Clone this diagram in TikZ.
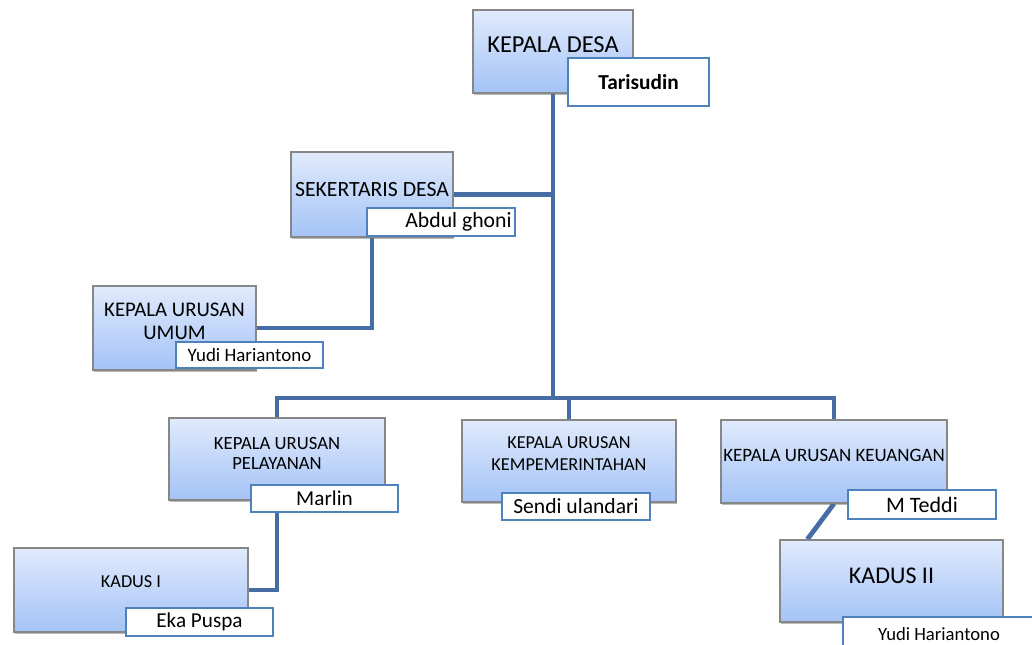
\documentclass[tikz,border=0pt]{standalone}
\usepackage{fontspec}
\setmainfont{Carlito}
\usetikzlibrary{shadows}
\pgfdeclarelayer{background}
\pgfsetlayers{background,main}
\definecolor{lineblue}{RGB}{70,110,165}
\definecolor{boxtop}{RGB}{224,234,252}
\definecolor{boxbot}{RGB}{164,195,246}
\definecolor{boxedge}{RGB}{135,135,135}
\definecolor{nameedge}{RGB}{79,129,189}
\tikzset{
  sz/.style 2 args={minimum width=#1*0.75pt, minimum height=#2*0.75pt},
  mainbox/.style={draw=boxedge, line width=1pt, top color=boxtop, bottom color=boxbot,
    drop shadow={shadow xshift=0.6pt, shadow yshift=-1.6pt, opacity=0.45, fill=black!60},
    inner sep=0pt},
  lbl/.style={align=center, text=black, inner sep=0pt},
  namebox/.style={draw=nameedge, line width=0.9pt, fill=white, inner sep=1pt, text=black},
  conn/.style={draw=lineblue, line width=3.6pt}
}
\begin{document}
\begin{tikzpicture}[x=0.75pt,y=-0.75pt]
\useasboundingbox (0,0) rectangle (1032,645);
% main boxes
\node[mainbox, sz={160}{83}, label={[lbl, yshift=4.9pt, font=\fontsize{18.3}{22}\selectfont]center:KEPALA DESA}] (kd) at (553,51.5) {};
\node[namebox, sz={141}{48}, font=\fontsize{16}{19}\selectfont\bfseries] (kdn) at (638.5,82) {Tarisudin};

\node[mainbox, sz={162}{85}, label={[lbl, yshift=3.4pt, font=\fontsize{16.3}{19}\selectfont]center:SEKERTARIS DESA}] (sd) at (372,194.5) {};
\node[namebox, sz={148}{28}, label={[lbl, xshift=13.1pt, font=\fontsize{16.3}{19}\selectfont]center:Abdul ghoni}] (sdn) at (441,222) {};

\node[mainbox, sz={163}{84}, label={[lbl, yshift=4.9pt, font=\fontsize{15.6}{17.25}\selectfont]center:KEPALA URUSAN\\UMUM}] (ku) at (174.5,328) {};
\node[namebox, sz={147}{26}, font=\fontsize{14.2}{17}\selectfont] (kun) at (249.5,355) {Yudi Hariantono};

\node[mainbox, sz={216}{82}, label={[lbl, yshift=4.5pt, font=\fontsize{14}{15}\selectfont]center:KEPALA URUSAN\\PELAYANAN}] (kp) at (277,459) {};
\node[namebox, sz={147}{27}, font=\fontsize{15.9}{19}\selectfont] (kpn) at (324.5,498.5) {Marlin};

\node[mainbox, sz={214}{82}, label={[lbl, yshift=5.2pt, font=\fontsize{13.7}{16.5}\selectfont]center:KEPALA URUSAN\\KEMPEMERINTAHAN}] (kk) at (569,461) {};
\node[namebox, sz={148}{27}, font=\fontsize{16.2}{19}\selectfont] (kkn) at (576,506.5) {Sendi ulandari};

\node[mainbox, sz={226}{83}, label={[lbl, yshift=4.9pt, font=\fontsize{14.2}{17}\selectfont]center:KEPALA URUSAN KEUANGAN}] (kg) at (834,461.5) {};
\node[namebox, sz={148}{29}, font=\fontsize{16.5}{19}\selectfont] (kgn) at (922,504.5) {M Teddi};

\node[mainbox, sz={234}{84}, label={[lbl, yshift=6pt, font=\fontsize{13.7}{16}\selectfont]center:KADUS I}] (k1) at (131,590) {};
\node[namebox, sz={147}{28}, font=\fontsize{15.9}{19}\selectfont] (k1n) at (199.5,622) {Eka Puspa};

\node[mainbox, sz={223}{82}, label={[lbl, yshift=4.1pt, font=\fontsize{18}{21}\selectfont]center:KADUS II}] (k2) at (891.5,581) {};
\node[namebox, sz={197}{34}, label={[lbl, xshift=-1.9pt, font=\fontsize{14}{17}\selectfont]center:Yudi Hariantono}] (k2n) at (941.5,634) {};

\coordinate (bus) at (553,398);
\begin{pgfonlayer}{background}
  \draw[conn] (kd.south) -- (bus);
  \draw[conn] (sd.east) -- (sd.east -| kd.south);
  \draw[conn] (sd.south) |- (ku.east);
  \draw[conn] (kp.north) |- (bus) -| (kg.north);
  \draw[conn] (kk.north) -- (kk.north |- bus);
  \draw[conn] (kp.south) |- (k1.east);
  \draw[conn] (kg.south) -- ([xshift=21pt]k2.north west);
\end{pgfonlayer}
\end{tikzpicture}
\end{document}
